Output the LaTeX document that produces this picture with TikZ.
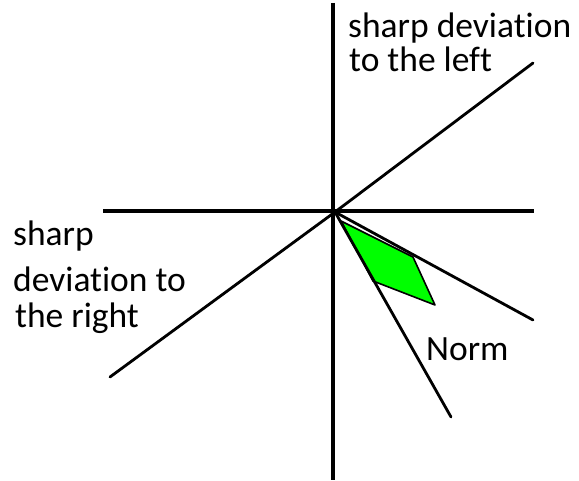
\documentclass[tikz,border=0pt]{standalone}
\usepackage{fontspec}
\setmainfont{Carlito}[Ligatures=NoCommon]
\usepackage{tikz}
\usepackage{xcolor}
\usetikzlibrary{positioning}
\definecolor{NormGreen}{HTML}{00FF00}

\begin{document}
\begin{tikzpicture}[x=1pt, y=-1pt]
    \tikzset{
        axis/.style={black, line width=3.6pt},
        ray/.style={black, line width=2.8pt, line cap=round},
        lbl/.style={anchor=base west, inner sep=0pt, font=\fontsize{35.5}{40}\selectfont}
    }
    \useasboundingbox (0,0) rectangle (579,481);
    % axes
    \coordinate (O) at (335,212);
    \draw[axis] (333,3) -- (333,480);
    \draw[axis] (103,211) -- (534,211);
    % deviation line through the origin
    \coordinate (devL) at (110,377);
    \coordinate (devR) at (533,63);
    \draw[ray] (devL) -- (O) -- (devR);
    % norm sector
    \coordinate (normA) at (533,320);
    \coordinate (normB) at (451,417);
    \fill[NormGreen, draw=black, line width=1.6pt, line join=round]
        (341,221) -- (413,257) -- (435,305) -- (373,281) -- cycle;
    \draw[ray] (O) -- (normA);
    \draw[ray] (O) -- (normB);
    % labels
    \node[lbl] (left1) at (348,38) {sharp deviation};
    \node[lbl] (left2) at (349,72) {to the left};
    \node[lbl] (right1) at (13,246) {sharp};
    \node[lbl] (right2) at (13,292) {deviation to};
    \node[lbl] (right3) at (15,328) {the right};
    \node[lbl] (norm) at (426,360) {Norm};
\end{tikzpicture}
\end{document}
